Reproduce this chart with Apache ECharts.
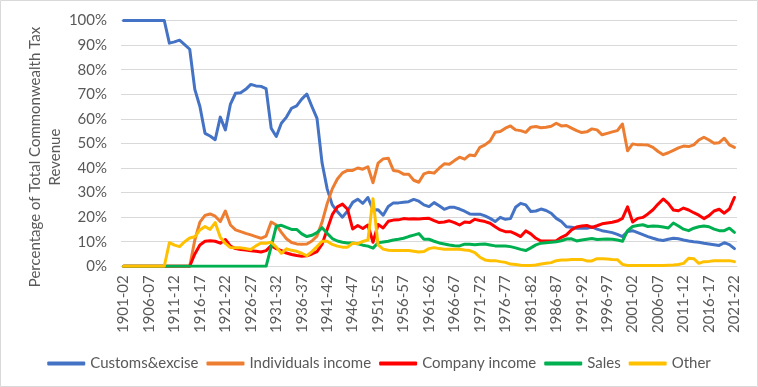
<!DOCTYPE html>
<html><head><meta charset="utf-8">
<script src="https://cdn.jsdelivr.net/npm/echarts@6/dist/echarts.min.js"></script>
<style>html,body{margin:0;padding:0;background:#fff}#c{width:758px;height:387px}</style>
</head><body><div id="c"></div><script>
// Financial years 1901-02 ... 2021-22
const startYears = [];
for (let y = 1901; y <= 2021; y++) startYears.push(y);
const categories = startYears.map(y => y + '-' + String((y + 1) % 100).padStart(2, '0'));

const seriesNames = ['Customs&excise', 'Individuals income', 'Company income', 'Sales', 'Other'];

const customsExcise = [
100,100,100,100,100,100,100,100,100,90.8,
91.3,92,90.2,88.3,72,65,54.1,53,51.5,60.7,
55.5,66,70.4,70.6,72,74,73.4,73.2,72.3,56.2,
52.8,58.2,60.7,64.3,65.3,68,70.1,65,60.2,42,
31.5,25,22.3,20,22.5,26,27.3,25.6,28,22.9,
23,20.8,24.3,25.8,25.8,26.1,26.3,27.2,26.5,25,
24.3,25.9,24.6,23.2,24,24,23.3,22.4,21.3,21.2,
21.2,20.5,19.5,18.2,19.9,19.1,19.4,24,25.6,25,
22.3,22.5,23.3,22.7,21.6,19.5,18.2,16.1,15.9,15.5,
15.5,15.5,16,15.1,14.5,14.1,13.7,13,12.1,14.1,
14.5,13.7,12.9,12.1,11.4,10.8,10.5,11,11.4,11.2,
10.7,10.3,10,9.8,9.4,9.1,8.8,8.5,9.6,8.8,
7.2];

const individualsIncome = [
0,0,0,0,0,0,0,0,0,0,
0,0,0,0,10.7,18,20.7,21.3,20.4,18.2,
22.5,16.8,14.8,14.1,13.4,12.8,12.1,11.4,12.3,18,
16.8,13.8,11.2,9.7,9.1,9,9.1,10.3,12.3,18,
25.5,31.5,35.5,38,39,39,40,39.5,40.5,34,
42,43.7,44,39,38.7,37.5,37.5,35,34.2,37.6,
38.3,37.9,39.9,41.7,41.5,43,44.4,43.6,45.3,45,
48.4,49.4,51,54.5,54.8,56.2,57.1,55.5,55.2,54.5,
56.6,56.9,56.4,56.6,57,58.2,57.1,57.3,56.2,55.2,
54.4,54.7,55.9,55.5,53.5,54.1,54.7,55.2,57.9,47,
49.8,49.4,49.4,49.3,48.4,46.7,45.4,46.2,47.2,48.2,
48.9,48.7,49.4,51.4,52.5,51.4,50.1,50.3,52.1,49.4,
48.4];

const companyIncome = [
0,0,0,0,0,0,0,0,0,0,
0,0,0,0,5,8.7,10.2,10.4,10.2,9.4,
10.9,8.2,7.2,6.8,6.6,6.3,6.1,5.8,6.4,8.4,
7.2,6.4,5.4,4.8,4.4,4.1,4.3,5,6,9,
15,21,24.2,25.3,23.2,15.2,16.6,15.4,16.8,9.8,
17,15.6,18.3,18.8,18.9,19.4,19.2,19.3,19.2,19.4,
19.5,18.6,17.8,18,18.5,17.8,16.8,18,17.8,19.1,
18.6,18.2,17.5,16.1,14.8,14.1,14.1,13.2,12.1,14.4,
13.2,11.4,10.3,10.3,10.3,10.4,11.8,12.8,14.8,16,
16.4,16.6,15.8,16.5,17.3,17.6,17.9,18.4,19.5,24.2,
18,19.5,19.9,21.3,23,25.3,27.4,25.6,22.9,22.6,
23.7,22.9,21.8,20.8,19.4,20.6,22.5,23.2,21.6,23.3,
28];

const sales = [
0,0,0,0,0,0,0,0,0,0,
0,0,0,0,0,0,0,0,0,0,
0,0,0,0,0,0,0,0,0,8,
16.3,16.7,15.8,15,15,13.2,12.1,12.6,13.7,15.7,
13.4,11.3,10.3,9.8,9.5,9.5,9.2,8.6,8.2,7.4,
9.6,9.9,10.2,10.7,11,11.4,12.1,12.7,13.3,11,
11,10.2,9.5,9.1,8.7,8.4,8.3,9,9,8.8,
9,9.1,8.7,8.3,8.3,8.3,8,7.5,6.9,6.4,
7.5,8.7,9.4,9.6,9.8,10,10.4,11.1,11.2,10.3,
10.7,11,11.3,10.9,11,11.1,11,10.7,10.2,14.5,
16.2,16.6,16.9,16.2,16.4,16.3,16,15.6,17.6,16.4,
15.1,14.5,15.5,16.1,16.4,16.1,15.1,14.5,14.5,15.5,
13.8];

const other = [
0,0,0,0,0,0,0,0,0,9.6,
8.6,8,10,11.5,12,14.8,16.2,15,17.8,11.8,
9.3,7.6,7.5,7.5,7.2,6.8,8.3,9.5,9.4,9.8,
7.8,5.3,7.1,6.5,6.1,5.3,4.3,6,8,10.2,
10.2,8.9,8.2,7.8,7.8,9.4,9.2,10.1,10.7,27.5,
8.7,7,6.5,6.4,6.4,6.4,6.4,6.1,5.8,6,
7.2,7.6,7.2,6.9,6.9,6.9,6.9,6.6,6.4,5.6,
3.7,2.6,2.3,2.3,1.9,1.6,0.9,0.7,0.4,0.3,
0.3,0.5,0.9,1.2,1.5,2.3,2.6,2.6,2.8,2.8,
2.8,2.2,2.2,3.1,3.1,3,2.8,2.7,0.8,0.3,
0.3,0.3,0.3,0.3,0.3,0.3,0.3,0.4,0.5,0.7,
1.2,3.3,3.1,1.2,1.9,2,2.3,2.3,2.3,2.3,
1.9];

const colors = ['#4472C4', '#ED7D31', '#FF0000', '#00B050', '#FFC000'];
const dataSets = [customsExcise, individualsIncome, companyIncome, sales, other];
const yTitle = 'Percentage of Total Commonwealth Tax\nRevenue';

const font = 'Lato, "Open Sans", sans-serif';
const txt = '#595959';

const chart = echarts.init(document.getElementById('c'), null, {renderer: 'canvas'});
chart.setOption({
  animation: false,
  backgroundColor: '#fff',
  color: colors,
  grid: {left: 121, right: 21, top: 20.5, bottom: 120.7, containLabel: false},
  legend: {
    data: seriesNames,
    left: 'center', top: 351,
    icon: 'roundRect', itemWidth: 38, itemHeight: 4, itemGap: 8,
    textStyle: {fontFamily: font, fontSize: 15, color: txt}
  },
  xAxis: {
    type: 'category', data: categories, boundaryGap: true,
    axisTick: {show: false},
    axisLine: {lineStyle: {color: '#d9d9d9', width: 1}},
    axisLabel: {interval: 4, rotate: 90, margin: 9, fontFamily: font, fontSize: 15, color: txt}
  },
  yAxis: {
    type: 'value', min: 0, max: 100, interval: 10,
    axisLine: {show: false}, axisTick: {show: false},
    splitLine: {lineStyle: {color: '#d9d9d9', width: 1}},
    axisLabel: {formatter: '{value}%', margin: 14, fontFamily: font, fontSize: 15, color: txt}
  },
  graphic: [
    {type: 'text', left: null, x: 45, y: 157, rotation: Math.PI / 2,
     style: {text: yTitle, fontFamily: font, fontSize: 15, fill: txt, align: 'center', verticalAlign: 'middle', lineHeight: 20}},
    {type: 'rect', shape: {x: 0.5, y: 0.5, width: 757, height: 386}, style: {fill: 'none', stroke: '#d9d9d9', lineWidth: 1}, silent: true}
  ],
  series: seriesNames.map((n, k) => ({
    name: n, type: 'line', data: dataSets[k], showSymbol: false, symbol: 'none',
    lineStyle: {width: 3, color: colors[k], cap: 'round', join: 'round'},
    itemStyle: {color: colors[k]}
  }))
});
</script></body></html>
